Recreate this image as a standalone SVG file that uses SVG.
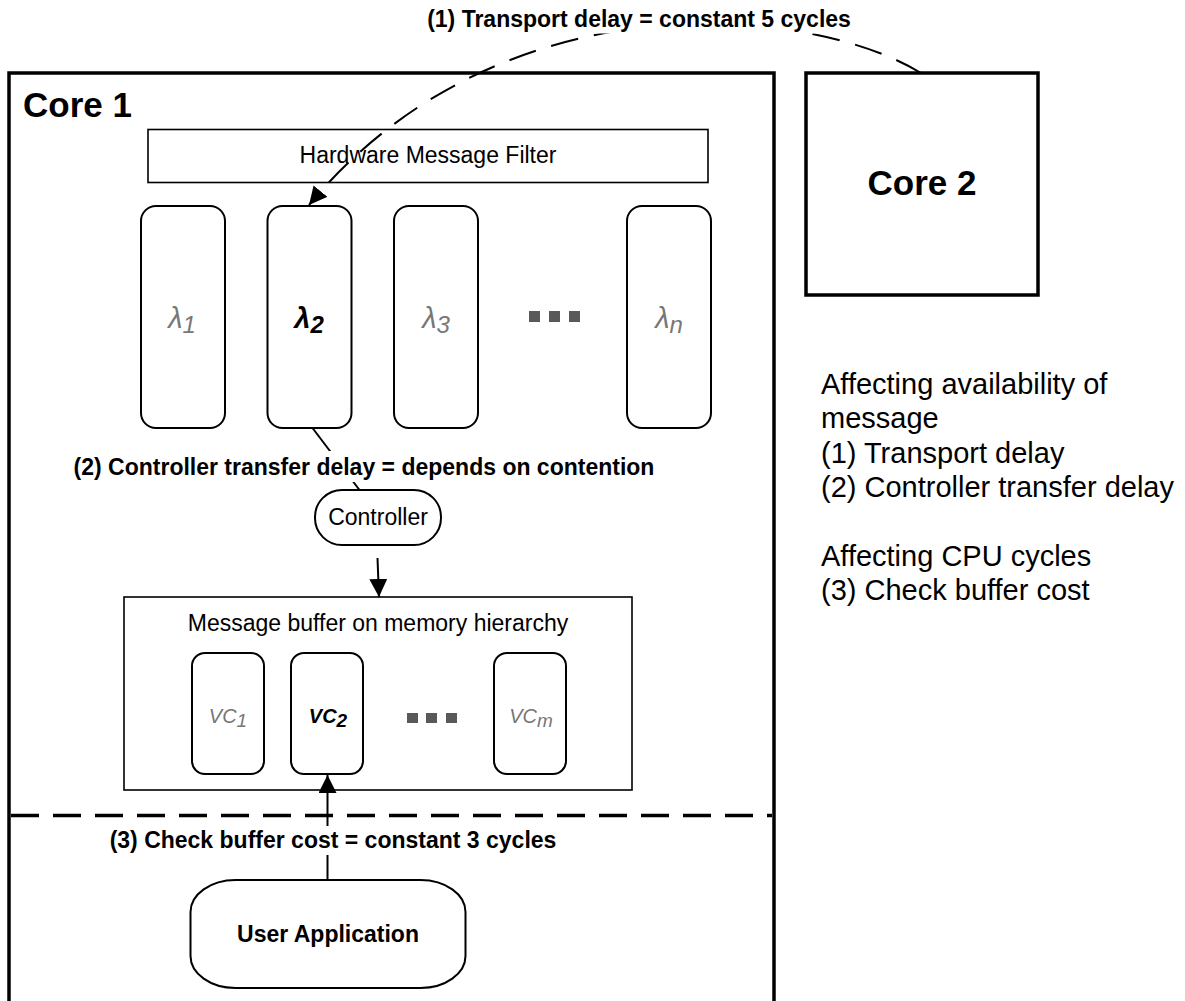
<svg xmlns="http://www.w3.org/2000/svg" width="1185" height="1001" viewBox="0 0 1185 1001">
  <style>
    text { font-family: "Liberation Sans", Arial, Helvetica, sans-serif; fill: #000; }
    .core { fill: #fff; stroke: #000; stroke-width: 3.5; }
    .box { fill: #fff; stroke: #000; stroke-width: 2; }
    .thin { fill: #fff; stroke: #000; stroke-width: 1.6; }
    .lbl { font-size: 23px; }
    .bold { font-weight: bold; }
    .big { font-size: 35px; font-weight: bold; }
    .lam { font-size: 29px; font-style: italic; fill: #777; }
    .vc { font-size: 20px; font-style: italic; fill: #777; }
    .sel { fill: #000; font-weight: bold; }
    .dot { fill: #595959; }
    .wire { fill: none; stroke: #000; stroke-width: 2; }
    .arc { stroke-dasharray: 28 16; }
    .sep { stroke: #000; stroke-width: 3.3; stroke-dasharray: 28 14; }
    .bg { fill: #fff; }
    .note { font-size: 29px; }
  </style>
  <defs>
    <marker id="head" markerUnits="userSpaceOnUse" markerWidth="18" markerHeight="18" viewBox="0 0 18 18" refX="18" refY="9" orient="auto">
      <path d="M0,0 L18,9 L0,18 Z" fill="#000" stroke="none"/>
    </marker>
  </defs>

  <!-- Core 1 enclosure (open at the bottom) -->
  <g id="core1">
    <rect class="core" x="9" y="73" width="765" height="960"/>
    <text class="big" x="23" y="117">Core 1</text>
  </g>

  <!-- Core 2 -->
  <g id="core2">
    <rect class="core" x="806" y="73" width="232" height="222"/>
    <text class="big" x="922" y="195" text-anchor="middle">Core 2</text>
  </g>

  <g id="hw-filter">
    <rect class="thin" x="148" y="129.5" width="560" height="53"/>
    <text class="lbl" x="428" y="163" text-anchor="middle">Hardware Message Filter</text>
  </g>

  <!-- receive queues -->
  <g id="lambda1">
    <rect class="box" x="141" y="206" width="84" height="222" rx="15"/>
    <text class="lam" x="182" y="328" text-anchor="middle">λ<tspan dy="4.5" font-size="24">1</tspan></text>
  </g>
  <g id="lambda2">
    <rect class="box" x="267.5" y="206" width="84" height="222" rx="15"/>
    <text class="lam sel" x="309" y="328" text-anchor="middle">λ<tspan dy="4.5" font-size="24">2</tspan></text>
  </g>
  <g id="lambda3">
    <rect class="box" x="394" y="206" width="84" height="222" rx="15"/>
    <text class="lam" x="436" y="328" text-anchor="middle">λ<tspan dy="4.5" font-size="24">3</tspan></text>
  </g>
  <g id="lambda-dots">
    <rect class="dot" x="529" y="311" width="11" height="11"/>
    <rect class="dot" x="549" y="311" width="11" height="11"/>
    <rect class="dot" x="569" y="311" width="11" height="11"/>
  </g>
  <g id="lambdan">
    <rect class="box" x="627" y="206" width="84" height="222" rx="15"/>
    <text class="lam" x="669" y="328" text-anchor="middle">λ<tspan dy="4.5" font-size="24">n</tspan></text>
  </g>

  <g id="controller">
    <rect class="box" x="315" y="490" width="126" height="55" rx="27"/>
    <text class="lbl" x="378" y="525" text-anchor="middle">Controller</text>
  </g>

  <g id="msg-buffer">
    <rect class="thin" x="124" y="597" width="508" height="193"/>
    <text class="lbl" x="378" y="631" text-anchor="middle">Message buffer on memory hierarchy</text>
  </g>
  <g id="vc1">
    <rect class="box" x="192" y="653" width="72" height="121" rx="13"/>
    <text class="vc" x="228" y="723" text-anchor="middle">VC<tspan dy="3.5" font-size="19">1</tspan></text>
  </g>
  <g id="vc2">
    <rect class="box" x="291" y="653" width="72" height="121" rx="13"/>
    <text class="vc sel" x="328" y="723" text-anchor="middle">VC<tspan dy="3.5" font-size="19">2</tspan></text>
  </g>
  <g id="vc-dots">
    <rect class="dot" x="407" y="713" width="11" height="10"/>
    <rect class="dot" x="426" y="713" width="11" height="10"/>
    <rect class="dot" x="446" y="713" width="11" height="10"/>
  </g>
  <g id="vcm">
    <rect class="box" x="494" y="653" width="72" height="121" rx="13"/>
    <text class="vc" x="531" y="723" text-anchor="middle">VC<tspan dy="3.5" font-size="19">m</tspan></text>
  </g>

  <!-- hardware / software boundary -->
  <g id="boundary">
    <line class="sep" x1="11" y1="815.5" x2="772" y2="815.5"/>
  </g>

  <g id="user-app">
    <rect class="box" x="190.5" y="880" width="275" height="108" rx="45" ry="32"/>
    <text class="lbl bold" x="328" y="942" text-anchor="middle">User Application</text>
  </g>

  <g id="legend">
    <text class="note" x="821" y="394">Affecting availability of</text>
    <text class="note" x="821" y="428">message</text>
    <text class="note" x="821" y="463">(1) Transport delay</text>
    <text class="note" x="821" y="497">(2) Controller transfer delay</text>
    <text class="note" x="821" y="566">Affecting CPU cycles</text>
    <text class="note" x="821" y="600">(3) Check buffer cost</text>
  </g>

  <g id="connectors">
    <path class="wire arc" d="M921,73 C810,5 500,-25 309,205" marker-end="url(#head)"/>
    <line class="wire" x1="312.5" y1="428" x2="359.5" y2="490"/>
    <line class="wire" x1="377.5" y1="558" x2="379" y2="597" marker-end="url(#head)"/>
    <line class="wire" x1="327.5" y1="880" x2="327.5" y2="775" marker-end="url(#head)"/>

    <rect class="bg" x="420" y="4" width="440" height="29.5"/>
    <text class="lbl bold" x="639" y="27" text-anchor="middle">(1) Transport delay = constant 5 cycles</text>
    <rect class="bg" x="66" y="451" width="596" height="31"/>
    <text class="lbl bold" x="364" y="475" text-anchor="middle">(2) Controller transfer delay = depends on contention</text>
    <rect class="bg" x="103" y="826" width="461" height="29"/>
    <text class="lbl bold" x="333" y="848" text-anchor="middle">(3) Check buffer cost = constant 3 cycles</text>
  </g>
</svg>
